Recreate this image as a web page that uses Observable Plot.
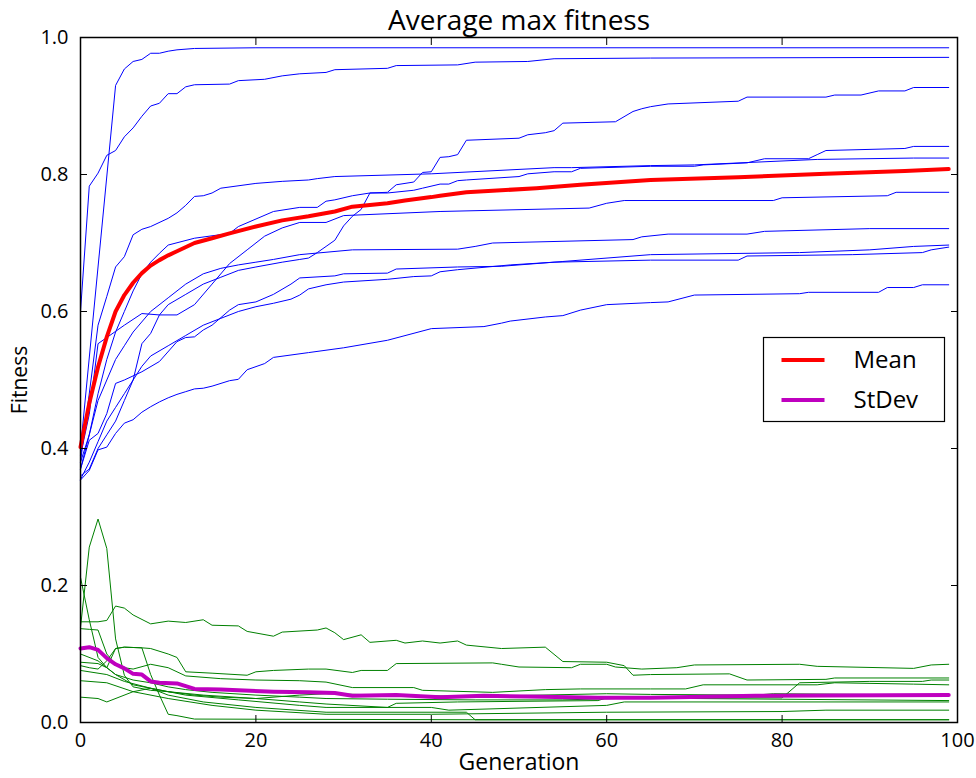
<!DOCTYPE html>
<html>
<head>
<meta charset="utf-8">
<script src="https://cdn.jsdelivr.net/npm/d3@7"></script>
<script src="https://cdn.jsdelivr.net/npm/@observablehq/plot@0.6"></script>
<style>
  html, body { margin: 0; padding: 0; background: #fff; }
  #chart svg { display: block; font-family: "Open Sans", sans-serif; }
</style>
</head>
<body>
<div id="chart"></div>
<script>
// Best fitness per generation for each of the ten runs: [generation, fitness]
const bestRun1 = [[0,0.40],[4,0.93],[5,0.954],[6,0.965],[7,0.968],[8,0.977],[9,0.977],[10,0.980],[11,0.982],[13,0.984],[20,0.985],[99,0.985]];
const bestRun2 = [[0,0.60],[1,0.783],[2,0.802],[3,0.828],[4,0.835],[5,0.855],[6,0.868],[7,0.885],[8,0.900],[9,0.904],[10,0.918],[11,0.918],[12,0.928],[13,0.931],[17,0.932],[18,0.937],[21,0.939],[23,0.944],[25,0.947],[28,0.949],[29,0.953],[35,0.955],[36,0.959],[43,0.960],[45,0.964],[51,0.965],[54,0.969],[65,0.970],[99,0.971]];
const bestRun3 = [[0,0.36],[1,0.37],[2,0.40],[3,0.42],[4,0.44],[5,0.47],[6,0.50],[7,0.553],[8,0.568],[9,0.595],[10,0.61],[12,0.625],[14,0.64],[16,0.65],[18,0.66],[20,0.665],[23,0.672],[25,0.676],[26,0.678],[27,0.686],[28,0.695],[29,0.704],[30,0.725],[31,0.739],[32,0.749],[33,0.773],[35,0.774],[36,0.785],[38,0.789],[39,0.803],[40,0.804],[41,0.825],[42,0.826],[43,0.829],[44,0.850],[50,0.853],[51,0.858],[53,0.861],[54,0.864],[55,0.875],[61,0.877],[63,0.892],[64,0.896],[65,0.899],[67,0.903],[75,0.907],[76,0.913],[85,0.913],[86,0.916],[89,0.916],[91,0.922],[94,0.922],[95,0.927],[99,0.927]];
const bestRun4 = [[0,0.37],[1,0.42],[2,0.48],[3,0.53],[4,0.57],[5,0.60],[6,0.63],[7,0.655],[8,0.672],[9,0.685],[10,0.697],[13,0.707],[17,0.714],[18,0.724],[22,0.746],[25,0.752],[27,0.752],[28,0.761],[29,0.763],[31,0.769],[33,0.773],[35,0.773],[38,0.777],[39,0.780],[41,0.786],[42,0.786],[43,0.791],[44,0.792],[50,0.797],[51,0.801],[54,0.804],[56,0.804],[57,0.809],[65,0.812],[70,0.812],[71,0.814],[76,0.817],[78,0.823],[83,0.823],[84,0.829],[85,0.835],[94,0.838],[95,0.841],[99,0.841]];
const bestRun5 = [[0,0.38],[2,0.58],[3,0.622],[4,0.665],[5,0.680],[6,0.712],[7,0.720],[8,0.724],[10,0.736],[11,0.744],[12,0.755],[13,0.768],[14,0.769],[15,0.773],[16,0.780],[20,0.787],[23,0.790],[26,0.792],[27,0.794],[29,0.797],[40,0.801],[54,0.810],[56,0.810],[65,0.813],[70,0.814],[84,0.822],[95,0.824],[99,0.824]];
const bestRun6 = [[0,0.39],[1,0.45],[2,0.553],[4,0.571],[5,0.580],[7,0.597],[9,0.595],[11,0.595],[13,0.610],[15,0.64],[17,0.67],[19,0.69],[21,0.71],[23,0.722],[25,0.730],[28,0.730],[30,0.740],[41,0.746],[58,0.751],[60,0.758],[62,0.762],[79,0.762],[80,0.766],[92,0.769],[93,0.774],[99,0.774]];
const bestRun7 = [[0,0.38],[1,0.42],[2,0.47],[3,0.50],[4,0.53],[5,0.55],[6,0.57],[8,0.60],[10,0.62],[12,0.64],[14,0.655],[16,0.663],[18,0.668],[20,0.672],[22,0.676],[25,0.683],[31,0.690],[43,0.691],[45,0.695],[47,0.700],[63,0.705],[64,0.709],[67,0.713],[76,0.713],[78,0.717],[90,0.721],[99,0.721]];
const bestRun8 = [[0,0.37],[1,0.412],[2,0.422],[3,0.451],[4,0.495],[5,0.500],[7,0.512],[9,0.527],[11,0.556],[12,0.562],[13,0.563],[14,0.573],[15,0.580],[17,0.602],[18,0.610],[20,0.614],[22,0.625],[24,0.640],[25,0.649],[29,0.652],[30,0.655],[35,0.656],[36,0.662],[43,0.665],[48,0.666],[55,0.673],[65,0.683],[82,0.686],[90,0.690],[95,0.695],[99,0.697]];
const bestRun9 = [[0,0.355],[1,0.38],[2,0.41],[3,0.44],[4,0.46],[5,0.48],[6,0.50],[7,0.52],[8,0.535],[10,0.55],[12,0.565],[14,0.58],[16,0.59],[18,0.60],[20,0.607],[22,0.612],[24,0.618],[25,0.624],[26,0.633],[28,0.639],[30,0.643],[35,0.647],[38,0.651],[40,0.652],[41,0.658],[43,0.661],[49,0.668],[54,0.672],[65,0.675],[75,0.675],[76,0.681],[88,0.683],[96,0.686],[97,0.690],[99,0.694]];
const bestRun10 = [[0,0.354],[1,0.368],[2,0.398],[3,0.402],[4,0.422],[5,0.437],[6,0.442],[7,0.453],[8,0.461],[9,0.468],[10,0.474],[11,0.479],[12,0.483],[13,0.487],[14,0.488],[15,0.491],[17,0.499],[18,0.501],[19,0.515],[21,0.524],[22,0.533],[26,0.540],[30,0.547],[35,0.558],[40,0.575],[46,0.578],[48,0.583],[49,0.586],[53,0.592],[55,0.594],[57,0.602],[60,0.610],[65,0.613],[67,0.614],[70,0.624],[82,0.626],[83,0.628],[91,0.628],[92,0.635],[95,0.635],[96,0.639],[99,0.639]];

// Population standard deviation per generation for each run: [generation, stdev]
const spreadRun1 = [[0,0.139],[1,0.256],[2,0.297],[3,0.254],[4,0.122],[5,0.069],[6,0.052],[8,0.047],[10,0.045],[13,0.040],[16,0.037],[20,0.035],[25,0.040],[28,0.042],[35,0.040],[45,0.038],[60,0.042],[65,0.041],[77,0.040],[79,0.042],[99,0.040]];
const spreadRun2 = [[0,0.212],[1,0.150],[2,0.095],[3,0.080],[4,0.070],[6,0.062],[8,0.058],[10,0.052],[12,0.048],[15,0.044],[20,0.040],[25,0.037],[28,0.035],[35,0.034],[45,0.033],[55,0.033],[64,0.036],[80,0.036],[82,0.058],[90,0.060],[96,0.060],[97,0.062],[99,0.062]];
const spreadRun3 = [[0,0.147],[2,0.147],[3,0.149],[4,0.170],[5,0.167],[6,0.157],[8,0.144],[10,0.148],[12,0.146],[14,0.150],[15,0.142],[18,0.141],[19,0.133],[22,0.126],[23,0.132],[27,0.135],[28,0.138],[29,0.131],[30,0.121],[32,0.128],[33,0.117],[36,0.120],[37,0.116],[39,0.119],[41,0.116],[43,0.119],[44,0.113],[48,0.108],[53,0.110],[55,0.089],[60,0.088],[62,0.083],[63,0.069],[65,0.070],[74,0.071],[76,0.062],[85,0.063],[86,0.065],[99,0.065]];
const spreadRun4 = [[0,0.088],[2,0.086],[3,0.080],[4,0.108],[5,0.110],[7,0.109],[8,0.108],[10,0.100],[11,0.095],[12,0.074],[15,0.072],[19,0.069],[20,0.074],[22,0.076],[26,0.078],[28,0.078],[31,0.073],[32,0.076],[35,0.076],[36,0.086],[47,0.087],[48,0.085],[50,0.081],[56,0.080],[57,0.085],[60,0.085],[61,0.081],[64,0.078],[68,0.080],[70,0.084],[82,0.085],[84,0.082],[95,0.079],[97,0.084],[99,0.085]];
const spreadRun5 = [[0,0.137],[1,0.136],[2,0.135],[3,0.100],[4,0.085],[5,0.080],[6,0.078],[8,0.085],[10,0.080],[12,0.068],[16,0.064],[20,0.062],[25,0.061],[28,0.059],[31,0.051],[38,0.051],[39,0.047],[47,0.044],[53,0.048],[57,0.049],[65,0.049],[69,0.049],[71,0.055],[84,0.055],[86,0.058],[95,0.056],[99,0.055]];
const spreadRun6 = [[0,0.083],[1,0.080],[2,0.078],[3,0.090],[4,0.108],[5,0.110],[7,0.109],[8,0.070],[9,0.040],[10,0.012],[11,0.010],[13,0.005],[45,0.004],[99,0.004]];
const spreadRun7 = [[0,0.100],[2,0.090],[4,0.070],[6,0.055],[8,0.050],[10,0.045],[14,0.040],[20,0.035],[25,0.030],[28,0.027],[35,0.022],[36,0.028],[43,0.030],[59,0.032],[60,0.036],[80,0.034],[99,0.032]];
const spreadRun8 = [[0,0.076],[3,0.070],[5,0.060],[8,0.050],[12,0.040],[18,0.033],[25,0.025],[28,0.022],[40,0.022],[42,0.018],[60,0.025],[62,0.030],[99,0.030]];
const spreadRun9 = [[0,0.061],[3,0.058],[6,0.045],[10,0.035],[15,0.025],[20,0.018],[28,0.012],[40,0.012],[60,0.015],[80,0.016],[85,0.018],[99,0.018]];
const spreadRun10 = [[0,0.037],[2,0.035],[3,0.030],[6,0.045],[8,0.050],[10,0.040],[14,0.030],[20,0.022],[28,0.015],[44,0.015],[45,0.004],[99,0.004]];

// Averages across runs: [generation, value]
const meanBest = [[0,0.402],[1,0.466],[2,0.519],[3,0.563],[4,0.600],[5,0.624],[6,0.642],[7,0.656],[8,0.667],[9,0.675],[10,0.682],[11,0.688],[13,0.700],[15,0.707],[17,0.714],[20,0.724],[23,0.733],[26,0.739],[29,0.746],[31,0.753],[35,0.758],[37,0.762],[40,0.767],[41,0.769],[44,0.774],[52,0.780],[57,0.785],[65,0.792],[75,0.796],[85,0.801],[94,0.805],[99,0.808]];
const meanSpread = [[0,0.108],[1,0.110],[2,0.106],[3,0.094],[4,0.085],[5,0.079],[6,0.071],[7,0.070],[8,0.060],[9,0.058],[11,0.057],[12,0.053],[13,0.049],[16,0.048],[22,0.045],[26,0.044],[29,0.043],[31,0.039],[36,0.040],[41,0.037],[46,0.039],[51,0.038],[59,0.036],[65,0.036],[77,0.039],[99,0.040]];

const xTicks = [0, 20, 40, 60, 80, 100];
const yTicks = [0, 0.2, 0.4, 0.6, 0.8, 1.0];
const legendLabels = ["Mean", "StDev"];

const bestRuns = [bestRun1, bestRun2, bestRun3, bestRun4, bestRun5, bestRun6, bestRun7, bestRun8, bestRun9, bestRun10];
const spreadRuns = [spreadRun1, spreadRun2, spreadRun3, spreadRun4, spreadRun5, spreadRun6, spreadRun7, spreadRun8, spreadRun9, spreadRun10];

const toRows = (runs) => runs.flatMap((pts, run) => pts.map(([gen, value]) => ({run, gen, value})));
const pairs = (pts) => pts.map(([gen, value]) => ({gen, value}));

const blue = "#0000ff", green = "#008000", red = "#ff0000", magenta = "#bf00bf";
const tickFont = 20;
const meanWidth = 4;

const chart = Plot.plot({
  width: 976,
  height: 778,
  marginLeft: 80,
  marginRight: 19,
  marginTop: 37,
  marginBottom: 56,
  x: {domain: [0, 100]},
  y: {domain: [0, 1]},
  marks: [
    Plot.line(toRows(bestRuns), {x: "gen", y: "value", z: "run", stroke: blue, strokeWidth: 1}),
    Plot.line(toRows(spreadRuns), {x: "gen", y: "value", z: "run", stroke: green, strokeWidth: 1}),
    Plot.line(pairs(meanBest), {x: "gen", y: "value", stroke: red, strokeWidth: meanWidth}),
    Plot.line(pairs(meanSpread), {x: "gen", y: "value", stroke: magenta, strokeWidth: meanWidth}),
    Plot.frame({stroke: "black", strokeWidth: 1.5}),
    Plot.axisX(xTicks, {anchor: "bottom", tickSize: -7, tickPadding: 17, fontSize: tickFont, label: null, tickFormat: d => d}),
    Plot.axisX(xTicks, {anchor: "top", tickSize: -7, tickFormat: () => "", label: null}),
    Plot.axisY(yTicks, {anchor: "left", tickSize: -7, tickPadding: 19, fontSize: tickFont, label: null, tickFormat: d3.format(".1f")}),
    Plot.axisY(yTicks, {anchor: "right", tickSize: -7, tickFormat: () => "", label: null}),
    Plot.text(["Average max fitness"], {frameAnchor: "top", dy: -27, fontSize: 28}),
    Plot.text(["Generation"], {frameAnchor: "bottom", dy: 47, fontSize: 23}),
    Plot.text(["Fitness"], {frameAnchor: "left", dx: -60, rotate: -90, textAnchor: "middle", fontSize: 21})
  ]
});

document.getElementById("chart").appendChild(chart);

// Legend box for the two averaged curves
const svg = d3.select(chart);
const legend = svg.append("g").attr("transform", "translate(763.5,337.5)");
legend.append("rect").attr("width", 181).attr("height", 84).attr("fill", "white").attr("stroke", "black").attr("stroke-width", 1.2);
[red, magenta].forEach((c, i) => {
  const y = 22.5 + i * 40;
  legend.append("line").attr("x1", 18).attr("x2", 61).attr("y1", y).attr("y2", y).attr("stroke", c).attr("stroke-width", meanWidth);
  legend.append("text").attr("x", 90).attr("y", y).attr("dy", "0.35em").attr("text-anchor", "start").attr("font-size", 24).attr("fill", "black").text(legendLabels[i]);
});
</script>
</body>
</html>
